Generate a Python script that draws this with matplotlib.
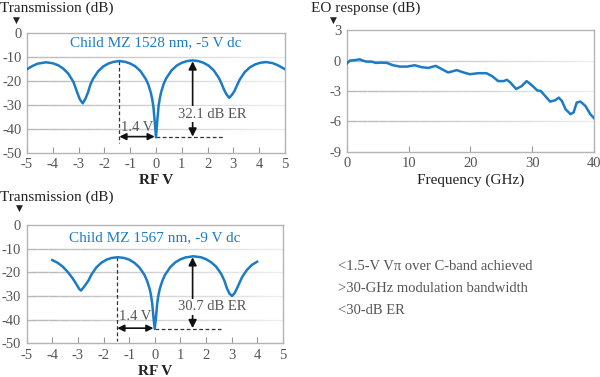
import numpy as np
import matplotlib
matplotlib.use("Agg")
import matplotlib.pyplot as plt
from matplotlib.collections import LineCollection

# ---- data ----
rf_1528 = [-5.0, -4.8, -4.6, -4.26, -4.0, -3.8, -3.6, -3.4, -3.2, -3.05, -2.95, -2.84,
           -2.74, -2.64, -2.54, -2.44, -2.24, -2.04, -1.84, -1.64, -1.42, -1.2, -1.0,
           -0.8, -0.6, -0.4, -0.3, -0.2, -0.15, -0.1, -0.05, 0.0, 0.05, 0.1, 0.15, 0.2,
           0.3, 0.4, 0.6, 0.8, 1.0, 1.2, 1.42, 1.64, 1.84, 2.04, 2.24, 2.44, 2.54, 2.64,
           2.74, 2.84, 2.94, 3.04, 3.14, 3.24, 3.44, 3.64, 3.84, 4.04, 4.26, 4.5, 4.7, 5.0]
tr_1528 = [-15.2, -13.9, -12.9, -12.3, -12.7, -13.5, -14.9, -17.0, -20.5, -25.0, -27.8, -29.4,
           -27.6, -25.0, -21.5, -19.2, -16.0, -14.0, -12.8, -12.1, -11.8, -12.1, -12.8,
           -14.0, -16.0, -19.2, -21.5, -25.0, -27.5, -30.9, -36.9, -43.6, -36.6, -30.6, -27.2, -24.7,
           -21.2, -18.9, -15.7, -13.7, -12.5, -11.8, -11.5, -11.8, -12.5, -13.7, -15.7, -18.9, -21.2, -23.8,
           -25.8, -27.1, -25.9, -24.3, -21.9, -19.6, -16.4, -14.4, -13.2, -12.5, -12.2, -12.6, -13.4, -15.2]

rf_1567 = [-4.0, -3.8, -3.6, -3.4, -3.2, -3.05, -2.95, -2.88, -2.78, -2.68, -2.58, -2.48,
           -2.28, -2.08, -1.88, -1.68, -1.44, -1.2, -1.0, -0.8, -0.6, -0.4, -0.3, -0.2,
           -0.15, -0.1, -0.05, 0.0, 0.05, 0.1, 0.15, 0.2, 0.3, 0.4, 0.6, 0.8, 1.0, 1.2,
           1.51, 1.8, 2.0, 2.2, 2.4, 2.6, 2.72, 2.82, 2.92, 3.02, 3.12, 3.22, 3.32, 3.42,
           3.6, 3.8, 4.0]
tr_1567 = [-14.8, -15.9, -17.5, -19.8, -22.6, -25.2, -27.0, -27.7, -26.4, -24.9, -23.3, -21.1,
           -17.9, -15.9, -14.6, -13.9, -13.6, -13.9, -14.6, -15.9, -17.9, -21.1, -23.5, -26.9,
           -29.4, -32.9, -38.9, -43.9, -38.9, -32.9, -29.4, -26.9, -23.5, -21.1, -17.9, -15.8, -14.5, -13.7,
           -13.2, -13.6, -14.4, -15.7, -17.6, -20.7, -23.5, -26.7, -29.0, -30.0, -28.8, -26.6, -24.2, -21.9,
           -19.0, -16.8, -15.5]

freq_ghz = [0.0, 0.5, 1.0, 1.6, 2.1, 2.6, 3.2, 4.0, 4.7, 5.6, 6.5, 7.5, 8.6, 9.7, 11.0,
            12.1, 13.2, 14.4, 15.4, 16.4, 17.8, 18.9, 19.9, 21.3, 22.6, 23.5, 24.5, 25.4,
            25.9, 26.4, 27.4, 28.3, 29.1, 29.9, 30.8, 31.4, 32.1, 32.9, 33.7, 34.3, 34.8,
            35.4, 36.2, 36.7, 37.2, 37.8, 38.6, 39.4, 40.0]
eo_db = [-0.29, 0.0, 0.03, 0.07, 0.13, 0.0, -0.1, -0.1, -0.23, -0.2, -0.23, -0.46, -0.59, -0.59, -0.46,
         -0.65, -0.72, -0.52, -0.85, -1.17, -0.94, -1.17, -1.34, -1.24, -1.24, -1.53, -2.02, -2.02,
         -1.89, -2.12, -2.8, -2.51, -2.02, -2.41, -2.93, -3.0, -3.49, -4.04, -3.91, -3.65, -3.97,
         -4.79, -5.28, -5.11, -4.14, -4.04, -4.46, -5.28, -5.67]

notes = ["<1.5-V V\u03c0 over C-band achieved", ">30-GHz modulation bandwidth", "<30-dB ER"]

BLUE = "#1b7bc4"
GREY = "#555555"
SERIF = ["Liberation Serif", "DejaVu Serif"]

plt.rcParams["font.family"] = SERIF
plt.rcParams["axes.unicode_minus"] = False


def fade_grid(ax, levels):
    # horizontal gridlines that fade towards the right edge
    xs = np.linspace(0, 1, 25)
    for lv in levels:
        segs = [[(xs[i], lv), (xs[i + 1], lv)] for i in range(len(xs) - 1)]
        alphas = np.linspace(1.0, 0.25, len(segs))
        cols = [(0.72, 0.72, 0.72, a) for a in alphas]
        lc = LineCollection(segs, colors=cols, linewidths=1.0,
                            transform=ax.get_yaxis_transform(), zorder=1)
        ax.add_collection(lc)


def style_axes(ax, xlim, ylim, xticks, yticks, grid):
    ax.set_xlim(*xlim)
    ax.set_ylim(*ylim)
    ax.set_xticks(xticks)
    ax.set_yticks(yticks)
    for s in ax.spines.values():
        s.set_color("#b4b4b4")
        s.set_linewidth(1.0)
    ax.tick_params(axis="y", length=0, pad=4, labelsize=10.5, labelcolor=GREY)
    ax.tick_params(axis="x", direction="in", length=4, color="#999999", pad=4,
                   labelsize=10.5, labelcolor=GREY)
    fade_grid(ax, grid)


def mz_panel(ax, x, y, title, ty, pk_l, pk_r, dip, er_label, er_y, lab_y, vbot):
    style_axes(ax, (-5, 5), (-50, 0), range(-5, 6), range(-50, 1, 10), [-10, -20, -30, -40])
    ax.plot(x, y, color=BLUE, lw=1.8, zorder=3)
    ax.text(0, ty, title, color=BLUE, fontsize=11, ha="center", va="center")
    # dashed guides
    ax.plot([pk_l[0], pk_l[0]], [pk_l[1], vbot], ls=(0, (3, 2)), color="#333333", lw=0.9, zorder=2)
    ax.plot([0, 2.6], [dip, dip], ls=(0, (3, 2)), color="#333333", lw=0.9, zorder=2)
    # 1.4 V arrow
    ax.annotate("", xy=(-0.05, dip + 0.3), xytext=(pk_l[0], dip + 0.3),
                arrowprops=dict(arrowstyle="<|-|>", color="#111111", lw=1.2,
                                mutation_scale=10, shrinkA=0, shrinkB=0), zorder=4)
    ax.text(pk_l[0] + 0.05, lab_y, "1.4 V", color=GREY, fontsize=10.5, ha="left", va="center")
    # extinction ratio arrow
    ax.annotate("", xy=(pk_r[0], pk_r[1] - 0.4), xytext=(pk_r[0], dip + 0.3),
                arrowprops=dict(arrowstyle="<|-|>", color="#111111", lw=1.2,
                                mutation_scale=12, shrinkA=0, shrinkB=0), zorder=4)
    ax.text(pk_r[0] + 0.75, er_y, er_label, color=GREY, fontsize=10.5, ha="center", va="center",
            bbox=dict(facecolor="white", edgecolor="none", pad=1.0), zorder=5)
    ax.set_xlabel("RF V", fontsize=11, fontweight="bold", color="#222222", labelpad=2)


fig = plt.figure(figsize=(6.0, 3.77), dpi=100)

ax1 = fig.add_axes([0.045, 0.595, 0.430, 0.318])
mz_panel(ax1, rf_1528, tr_1528, "Child MZ 1528 nm, -5 V dc", -4.3,
         (-1.42, -11.8), (1.42, -11.5), -43.6, "32.1 dB ER", -34.0, -39.3, -46.0)

ax3 = fig.add_axes([0.0445, 0.0894, 0.4267, 0.3136])
mz_panel(ax3, rf_1567, tr_1567, "Child MZ 1567 nm, -9 V dc", -5.2,
         (-1.46, -13.6), (1.48, -13.2), -43.9, "30.7 dB ER", -34.5, -38.7, -49.2)

ax2 = fig.add_axes([0.578, 0.597, 0.412, 0.323])
style_axes(ax2, (0, 40), (-9, 3), [0, 10, 20, 30, 40], [-9, -6, -3, 0, 3], [0, -3, -6])
ax2.plot(freq_ghz, eo_db, color=BLUE, lw=1.8, zorder=3)
ax2.set_xlabel("Frequency (GHz)", fontsize=11, color="#222222", labelpad=2)

# axis titles with the little down-pointing markers
fig.text(0.0, 0.995, "Transmission (dB)", fontsize=11, color="#222222", ha="left", va="top")
fig.text(0.028, 0.958, "\u25bc", fontsize=6.5, color="#222222", ha="center", va="top",
         family="DejaVu Sans")
fig.text(0.518, 0.997, "EO response (dB)", fontsize=11, color="#222222", ha="left", va="top")
fig.text(0.555, 0.958, "\u25bc", fontsize=6.5, color="#222222", ha="center", va="top",
         family="DejaVu Sans")
fig.text(0.0, 0.495, "Transmission (dB)", fontsize=11, color="#222222", ha="left", va="top")
fig.text(0.033, 0.46, "\u25bc", fontsize=6.5, color="#222222", ha="center", va="top",
         family="DejaVu Sans")

for i, line in enumerate(notes):
    fig.text(0.563, 0.293 - i * 0.058, line, fontsize=10.5, color=GREY, ha="left", va="center")

fig.savefig("out.png", dpi=100)
